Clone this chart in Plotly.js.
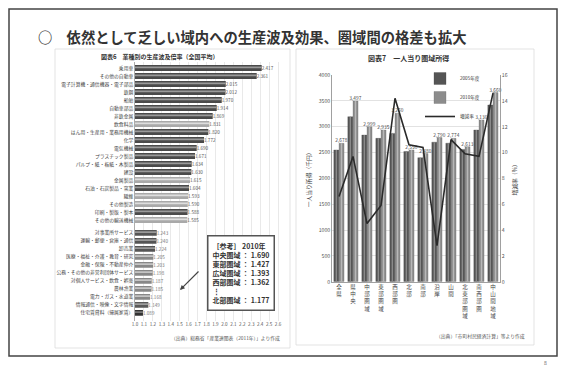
<!DOCTYPE html>
<html><head><meta charset="utf-8">
<script src="https://cdn.plot.ly/plotly-3.0.1.min.js"></script>
<style>html,body{margin:0;padding:0;background:#fff}#c{width:566px;height:367px}</style>
</head><body><div id="c"></div>
<script>
// ---------- data ----------
const industriesA = ["乗用車","その他の自動車","電子計算機・通信機器・電子部品","鉄鋼","船舶","自動車部品","非鉄金属","飲食料品","はん用・生産用・業務用機械","化学","電気機械","プラスチック製品","パルプ・紙・板紙・木製品","建設","金属製品","石油・石炭製品・窯業","繊維","その他製造","印刷・製版・製本","その他の輸送機械"];
const coefA = [2.417,2.361,2.015,2.012,1.970,1.914,1.869,1.831,1.820,1.772,1.690,1.671,1.634,1.630,1.615,1.604,1.593,1.590,1.588,1.585];
const industriesB = ["対事業所サービス","運輸・郵便・倉庫・通信","卸売業","医療・福祉・介護・教育・研究","金融・保険・不動産仲介","公務・その他の非営利団体サービス","対個人サービス・飲食・娯楽","農林漁業","電力・ガス・水道業","情報通信・映像・文字情報","住宅賃貸料（帰属家賃）"];
const coefB = [1.243,1.240,1.224,1.205,1.203,1.198,1.187,1.185,1.168,1.149,1.089];
const coefTicks = [1.0,1.1,1.2,1.3,1.4,1.5,1.6,1.7,1.8,1.9,2.0,2.1,2.2,2.3,2.4,2.5,2.6];
const refHeader = "［参考］ 2010年";
const refAreas = ["中央圏域","東部圏域","広域圏域","西部圏域","北部圏域"];
const refValues = ["1.690","1.427","1.393","1.362","1.177"];

const regions = ["全県","県中央","中部圏域","東部圏域","西部圏","北部","南部","沿岸","山間","北東部圏域","南西部圏","中山間地域"];
const income2005 = [2549,3193,2838,2774,2870,2520,2400,2700,2680,2560,2935,3420];
const income2010 = [2678,3497,2999,2935,3260,2550,2480,2790,2774,2613,3130,3660];
const growthRate = [6.6,9.7,4.5,5.9,14.2,10.6,10.4,2.8,11.0,9.9,9.7,14.6];
const seriesNames = ["2005年度","2010年度","増減率"];

// ---------- styles ----------
const F = "Noto Sans CJK JP, Noto Sans, sans-serif";
const lightA = new Set([7,14,16,17,19]);
const baseColA = coefA.map((_,i)=> lightA.has(i) ? "#a9a9a9" : "#4a4a4a");
const stripeColA = coefA.map((_,i)=> lightA.has(i) ? "#dedede" : "#9a9a9a");
const baseColB = coefB.map((_,i)=> i<3 ? "#555" : (i===10 ? "#333" : (i===9 ? "#5a5a5a" : "#888")));
const stripeColB = coefB.map((_,i)=> i<3 ? "#999" : (i===10 ? "#777" : (i===9 ? "#9c9c9c" : "#c4c4c4")));
const posA = industriesA.map((_,i)=>i);
const posB = industriesB.map((_,i)=>20.6+i);

const traces = [
  {type:"bar",orientation:"h",x:coefA,y:posA,width:0.72,marker:{color:baseColA},
   texttemplate:"%{x:.3f}",textposition:"outside",textfont:{size:4.6,color:"#555",family:F},
   constraintext:"none",showlegend:false,hoverinfo:"skip",xaxis:"x",yaxis:"y"},
  {type:"bar",orientation:"h",x:coefA,y:posA,width:0.22,offset:-0.2,marker:{color:stripeColA},
   showlegend:false,hoverinfo:"skip",xaxis:"x",yaxis:"y"},
  {type:"bar",orientation:"h",x:coefB,y:posB,width:0.72,marker:{color:baseColB},
   texttemplate:"%{x:.3f}",textposition:"outside",textfont:{size:4.6,color:"#777",family:F},
   constraintext:"none",showlegend:false,hoverinfo:"skip",xaxis:"x",yaxis:"y"},
  {type:"bar",orientation:"h",x:coefB,y:posB,width:0.22,offset:-0.2,marker:{color:stripeColB},
   showlegend:false,hoverinfo:"skip",xaxis:"x",yaxis:"y"},
  {type:"bar",x:regions,y:income2005,name:seriesNames[0],offset:-0.37,width:0.36,
   marker:{color:"#555",line:{color:"#444",width:0.3}},xaxis:"x2",yaxis:"y2"},
  {type:"bar",x:regions,y:income2010,name:seriesNames[1],offset:0,width:0.36,
   marker:{color:"#8c8c8c",line:{color:"#666",width:0.3}},
   texttemplate:"%{y:,.0f}",textposition:"outside",textfont:{size:4.8,color:"#444",family:F},
   constraintext:"none",cliponaxis:false,xaxis:"x2",yaxis:"y2"},
  {type:"bar",x:regions,y:income2005,offset:-0.24,width:0.1,marker:{color:"#8a8a8a"},
   showlegend:false,hoverinfo:"skip",xaxis:"x2",yaxis:"y2"},
  {type:"bar",x:regions,y:income2010,offset:0.13,width:0.1,marker:{color:"#b8b8b8"},
   showlegend:false,hoverinfo:"skip",xaxis:"x2",yaxis:"y2"},
  {type:"scatter",mode:"lines",x:regions,y:growthRate,name:seriesNames[2],
   line:{color:"#2a2a2a",width:1.6},xaxis:"x2",yaxis:"y3"}
];

const W=566,H=367;
const px = v=>v/W, py = v=>1-v/H;

const refText = refHeader + "<br>" + refAreas.map((a,i)=>a+" ： "+refValues[i]).slice(0,4).join("<br>")
  + "<br>⋮<br>" + refAreas[4] + " ： " + refValues[4];

const layout = {
  width:W,height:H,margin:{l:0,r:0,t:0,b:0},paper_bgcolor:"#fff",plot_bgcolor:"rgba(0,0,0,0)",
  barmode:"overlay",font:{family:F,color:"#333"},
  xaxis:{domain:[px(135),px(287)],range:[1.0,2.7],tickvals:coefTicks,tickformat:".1f",
    tickfont:{size:4.6,color:"#555"},showgrid:true,gridcolor:"#e4e4e4",gridwidth:0.8,zeroline:false,
    ticks:"",anchor:"y",automargin:false,fixedrange:true},
  yaxis:{domain:[py(320.8),py(61.6)],range:[31.6,-0.8],tickvals:posA.concat(posB),
    ticktext:industriesA.concat(industriesB),tickfont:{size:4.8,color:"#444"},showgrid:false,
    zeroline:false,showline:true,linecolor:"#999",linewidth:0.8,ticks:"",anchor:"x",automargin:false},
  xaxis2:{domain:[px(332),px(500)],type:"category",anchor:"y2",
    tickvals:regions,ticktext:regions.map(s=>s.split("").join("<br>")),tickangle:0,
    tickfont:{size:5.5,color:"#444"},showline:true,linecolor:"#888",linewidth:0.8,ticks:"",automargin:false},
  yaxis2:{domain:[py(281.7),py(75)],range:[0,4000],dtick:500,anchor:"x2",
    tickfont:{size:5.2,color:"#555"},showgrid:true,gridcolor:"#e2e2e2",zeroline:false,
    showline:true,linecolor:"#888",linewidth:0.8,automargin:false,
    title:{text:"一人当り所得（千円）",font:{size:5.8,color:"#444"},standoff:6}},
  yaxis3:{overlaying:"y2",side:"right",anchor:"x2",range:[0,16],dtick:2,showgrid:false,zeroline:false,
    tickfont:{size:5.2,color:"#555"},showline:true,linecolor:"#888",linewidth:0.8,automargin:false,
    title:{text:"増減率（%）",font:{size:5.8,color:"#444"},standoff:6}},
  legend:{x:px(420),y:py(64),xanchor:"left",yanchor:"top",font:{size:4.6,color:"#333"},
    bgcolor:"rgba(255,255,255,0)",itemwidth:30,tracegroupgap:0,traceorder:"normal"},
  shapes:[
    {type:"rect",xref:"paper",yref:"paper",x0:px(9),x1:px(557),y0:py(356),y1:py(9),line:{color:"#444",width:1.5}},
    {type:"rect",xref:"paper",yref:"paper",x0:px(55),x1:px(290),y0:py(348),y1:py(49),line:{color:"#dcdcdc",width:0.8}},
    {type:"rect",xref:"paper",yref:"paper",x0:px(296),x1:px(534),y0:py(345),y1:py(49),line:{color:"#dcdcdc",width:0.8}}
  ],
  annotations:[
    {xref:"paper",yref:"paper",x:px(36),y:py(36),xanchor:"left",yanchor:"middle",showarrow:false,
     text:"<b>○　依然として乏しい域内への生産波及効果、圏域間の格差も拡大</b>",font:{size:14.3,color:"#333"}},
    {xref:"paper",yref:"paper",x:px(160),y:py(57),xanchor:"center",yanchor:"middle",showarrow:false,
     text:"<b>図表6　業種別の生産波及倍率（全国平均）</b>",font:{size:6,color:"#333"}},
    {xref:"paper",yref:"paper",x:px(408),y:py(58),xanchor:"center",yanchor:"middle",showarrow:false,
     text:"<b>図表7　一人当り圏域所得</b>",font:{size:7,color:"#333"}},
    {xref:"paper",yref:"paper",x:px(282),y:py(338),xanchor:"right",yanchor:"middle",showarrow:false,
     text:"（出典）総務省「産業連関表（2011年）」より作成",font:{size:4.8,color:"#555"}},
    {xref:"paper",yref:"paper",x:px(527),y:py(336),xanchor:"right",yanchor:"middle",showarrow:false,
     text:"（出典）「市町村民経済計算」等より作成",font:{size:4.8,color:"#555"}},
    {xref:"paper",yref:"paper",x:px(545),y:py(362),xanchor:"center",yanchor:"middle",showarrow:false,
     text:"8",font:{size:5,color:"#555"}},
    {xref:"paper",yref:"paper",x:px(241),y:py(273),xanchor:"center",yanchor:"middle",showarrow:false,
     text:"<b>"+refText+"</b>",align:"left",font:{size:7,color:"#333"},
     bordercolor:"#555",borderwidth:1.5,borderpad:4,bgcolor:"#fff"},
    {xref:"paper",yref:"paper",x:px(180),y:py(290),axref:"pixel",ayref:"pixel",ax:20,ay:-20,
     showarrow:true,arrowhead:2,arrowsize:0.8,arrowwidth:1.2,arrowcolor:"#444",text:""}
  ]
};

Plotly.newPlot("c",traces,layout,{staticPlot:true,displayModeBar:false});
</script>
</body></html>
